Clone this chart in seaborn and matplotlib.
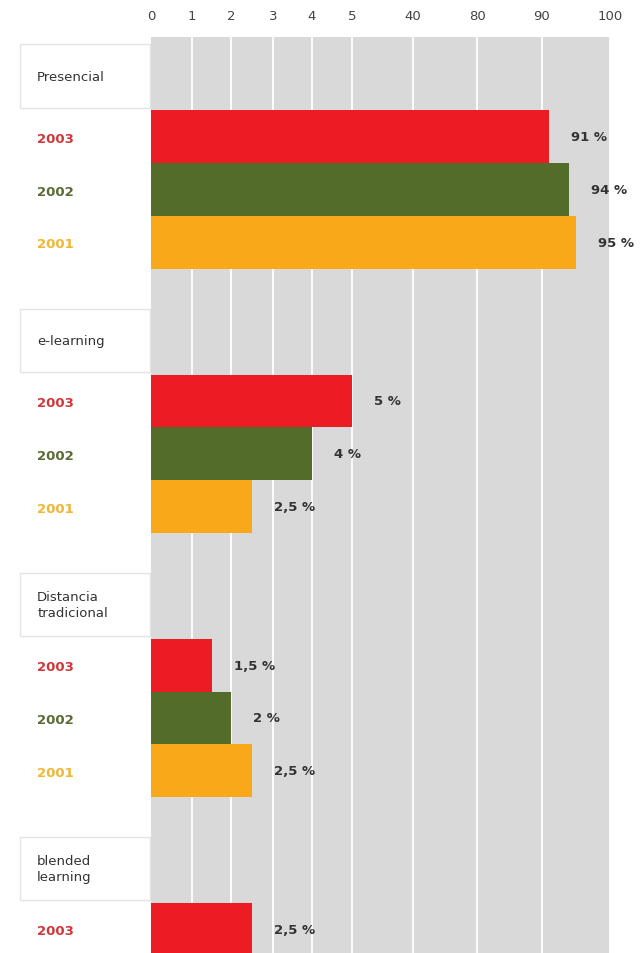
import matplotlib
matplotlib.use('Agg')
import matplotlib.pyplot as plt
import matplotlib.transforms as mtransforms
from matplotlib.patches import Rectangle
import numpy as np
import pandas as pd
import seaborn as sns

# Data
groups = ['Presencial', 'e-learning', 'Distancia\ntradicional', 'blended\nlearning']
years = ['2003', '2002', '2001']
presencial = [91, 94, 95]
elearning = [5, 4, 2.5]
distancia = [1.5, 2, 2.5]
blended = [2.5]  # only 2003 visible, picture is cut off below
values = [presencial, elearning, distancia, blended]

# broken x axis: tick values and where they sit (pixels from the left edge)
tick_values = [0, 1, 2, 3, 4, 5, 40, 80, 90, 100]
tick_pos = [0, 41, 80, 122, 161, 201, 262, 326, 391, 459]

year_colors = {'2003': '#ec1c24', '2002': '#536c2a', '2001': '#f9a81a'}
label_colors = {'2003': '#d0393b', '2002': '#5a6b36', '2001': '#f2b536'}

# Build table + row order (header row, year rows, gap row)
records = []
order = []
for i, (g, vals) in enumerate(zip(groups, values)):
    order.append(f'hdr{i}')
    for y, v in zip(years, vals):
        key = f'{g}|{y}'
        records.append({'row': key, 'year': y, 'value': v, 'group': g})
        order.append(key)
    if i < len(groups) - 1:
        order.append(f'gap{i}')
df = pd.DataFrame(records)

sns.set_style('white')
plt.rcParams['font.family'] = ['DejaVu Sans']

fig = plt.figure(figsize=(6.44, 9.54), dpi=100)
ax = fig.add_axes([151 / 644, 0, 459 / 644, 1 - 38 / 954])
ax.set_facecolor('#d9d9d9')

sns.barplot(data=df, x='value', y='row', hue='year', order=order,
            hue_order=years, palette=year_colors, dodge=False, width=1.0,
            orient='h', legend=False, ax=ax, linewidth=0, saturation=1)


def fwd(x):
    return np.interp(x, tick_values, tick_pos)


def inv(x):
    return np.interp(x, tick_pos, tick_values)


ax.set_xscale('function', functions=(fwd, inv))
ax.set_xlim(0, 100)
ax.set_ylim(16.45, -0.89)

ax.set_xticks(tick_values)
ax.set_xticklabels([str(t) for t in tick_values])
ax.xaxis.tick_top()
ax.tick_params(axis='x', length=0, pad=11, labelsize=9.5, labelcolor='#444444')
for t in tick_values[1:]:
    ax.axvline(t, color='white', linewidth=1.3, zorder=0.5)
ax.set_axisbelow(True)

# year labels on the left
ytick_rows = []
ytick_labels = []
for idx, key in enumerate(order):
    if '|' in key:
        ytick_rows.append(idx)
        ytick_labels.append(key.split('|')[1])
ax.set_yticks(ytick_rows)
ax.set_yticklabels(ytick_labels)
ax.tick_params(axis='y', length=0, pad=82, labelsize=9.5)
for lab in ax.get_yticklabels():
    lab.set_horizontalalignment('left')
    lab.set_color(label_colors[lab.get_text()])
    lab.set_fontweight('semibold')

ax.set_xlabel('')
ax.set_ylabel('')
for s in ax.spines.values():
    s.set_visible(False)

# value labels
for cont in ax.containers:
    labs = []
    for bar in cont:
        w = bar.get_width()
        labs.append(f'{w:g} %'.replace('.', ',') if w > 0 else '')
    ax.bar_label(cont, labels=labs, padding=16, fontsize=9.5,
                 color='#333333', fontweight='semibold')

# group header boxes
trans = mtransforms.blended_transform_factory(ax.transAxes, ax.transData)
for i, g in enumerate(groups):
    r = order.index(f'hdr{i}')
    ax.add_patch(Rectangle((-0.285, r - 0.15 - 0.6), 0.283, 1.2,
                           transform=trans, facecolor='white',
                           edgecolor='#e4e4e4', linewidth=1, clip_on=False))
    ax.text(-0.248, r - 0.15, g, transform=trans, ha='left', va='center',
            fontsize=9.5, color='#333333', linespacing=1.3)

fig.savefig('out.png', dpi=100)
